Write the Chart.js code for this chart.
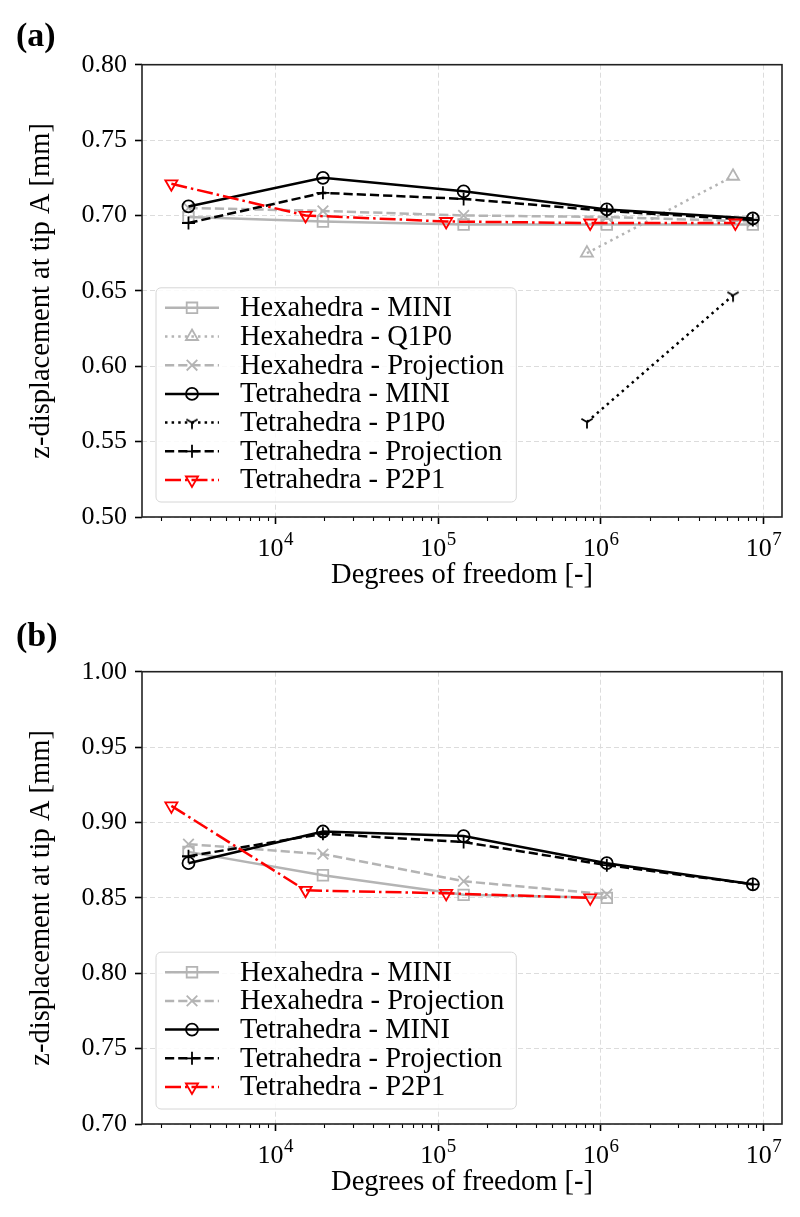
<!DOCTYPE html>
<html>
<head>
<meta charset="utf-8">
<script src="https://cdn.jsdelivr.net/npm/chart.js@4.4.0/dist/chart.umd.min.js"></script>
<style>
  html, body { margin: 0; padding: 0; background: #fff; }
  #wrap { position: relative; width: 800px; height: 1217px; }
  canvas { position: absolute; left: 0; }
</style>
</head>
<body>
<div id="wrap">
  <canvas id="chartA" width="800" height="607" style="top:0"></canvas>
  <canvas id="chartB" width="800" height="607" style="top:607px"></canvas>
</div>
<script>
// degrees of freedom of each mesh refinement
const dofHex = [2930, 19630, 143600, 1089000, 8590000];
const dofTet = [2930, 19630, 143600, 1089000, 8590000];
const dofP2P1 = [2300, 15350, 112200, 861000, 6710000];
const dofLowOrder = [822000, 6490000];

// (a) z-displacement at tip A [mm]
const hexMiniA = [0.699, 0.696, 0.694, 0.694, 0.694];
const hexQ1P0A = [0.675, 0.726];
const hexProjA = [0.705, 0.703, 0.700, 0.699, 0.696];
const tetMiniA = [0.706, 0.725, 0.716, 0.704, 0.698];
const tetP1P0A = [0.563, 0.647];
const tetProjA = [0.695, 0.715, 0.711, 0.703, 0.697];
const tetP2P1A = [0.721, 0.700, 0.696, 0.695, 0.695];

// (b) z-displacement at tip A [mm]
const hexMiniB = [0.8805, 0.865, 0.852, 0.850];
const hexProjB = [0.8856, 0.879, 0.861, 0.8524];
const tetMiniB = [0.873, 0.894, 0.891, 0.873, 0.859];
const tetProjB = [0.8776, 0.8925, 0.887, 0.8717, 0.859];
const tetP2P1B = [0.911, 0.855, 0.853, 0.850];

// axis ticks
const xTicks = [1e4, 1e5, 1e6, 1e7];
const yTicksA = [0.50, 0.55, 0.60, 0.65, 0.70, 0.75, 0.80];
const yTicksB = [0.70, 0.75, 0.80, 0.85, 0.90, 0.95, 1.00];

const GRAY = '#b4b4b4';
const RED = '#ff0000';
const FONT = "'Liberation Serif', 'DejaVu Serif', serif";
const TXT = 28.5;
Chart.defaults.font.family = FONT;
Chart.defaults.color = '#000';

// matplotlib '1' marker (tri_down)
function triDown(color) {
  const c = document.createElement('canvas');
  c.width = 18; c.height = 18;
  const g = c.getContext('2d');
  g.strokeStyle = color; g.lineWidth = 1.8;
  g.beginPath();
  g.moveTo(9, 9); g.lineTo(9, 15.5);
  g.moveTo(9, 9); g.lineTo(3.4, 5.8);
  g.moveTo(9, 9); g.lineTo(14.6, 5.8);
  g.stroke();
  return c;
}

const styles = {
  'Hexahedra - MINI':        { color: GRAY, dash: [], point: 'rect', r: 7.5 },
  'Hexahedra - Q1P0':        { color: GRAY, dash: [2.5, 4.1], point: 'triangle', r: 7 },
  'Hexahedra - Projection':  { color: GRAY, dash: [9.2, 4], point: 'crossRot', r: 7.5 },
  'Tetrahedra - MINI':       { color: '#000', dash: [], point: 'circle', r: 6 },
  'Tetrahedra - P1P0':       { color: '#000', dash: [2.5, 4.1], point: triDown('#000'), r: 6 },
  'Tetrahedra - Projection': { color: '#000', dash: [9.2, 4], point: 'cross', r: 6.5 },
  'Tetrahedra - P2P1':       { color: RED, dash: [16, 4, 2.5, 4], point: 'triangle', r: 7, rot: 180 }
};

function series(label, xs, ys, idx, n) {
  const s = styles[label];
  return {
    label,
    data: ys.map((y, i) => ({ x: xs[i], y })),
    borderColor: s.color,
    borderWidth: 2.5,
    borderDash: s.dash,
    pointStyle: s.point,
    pointRadius: s.r,
    pointRotation: s.rot || 0,
    pointBorderColor: s.color,
    pointBackgroundColor: 'rgba(0,0,0,0)',
    pointBorderWidth: 1.8,
    tension: 0,
    fill: false,
    order: n - idx
  };
}

// frame, log tick labels, minor ticks and the legend box
const decor = {
  id: 'decor',
  afterDraw(chart) {
    const ctx = chart.ctx;
    const a = chart.chartArea;
    const xs = chart.scales.x;
    ctx.save();
    // minor ticks
    ctx.strokeStyle = '#000';
    ctx.lineWidth = 1.1;
    for (let e = 3; e <= 7; e++) {
      for (let m = 2; m <= 9; m++) {
        const v = m * Math.pow(10, e);
        if (v < xs.min || v > xs.max) continue;
        const px = Math.round(xs.getPixelForValue(v)) + 0.5;
        ctx.beginPath();
        ctx.moveTo(px, a.bottom);
        ctx.lineTo(px, a.bottom + 4);
        ctx.stroke();
      }
    }
    // 10^n labels
    ctx.fillStyle = '#000';
    ctx.textBaseline = 'alphabetic';
    ctx.textAlign = 'left';
    xTicks.forEach(v => {
      const px = xs.getPixelForValue(v);
      const exp = String(Math.round(Math.log10(v)));
      ctx.font = '26px ' + FONT;
      const w1 = ctx.measureText('10').width;
      ctx.font = '19px ' + FONT;
      const w2 = ctx.measureText(exp).width;
      const x0 = px - (w1 + w2) / 2;
      ctx.font = '26px ' + FONT;
      ctx.fillText('10', x0, a.bottom + 39);
      ctx.font = '19px ' + FONT;
      ctx.fillText(exp, x0 + w1 + 0.5, a.bottom + 28);
    });
    // frame
    ctx.lineWidth = 1.6;
    ctx.strokeStyle = '#222';
    ctx.strokeRect(a.left, a.top, a.right - a.left, a.bottom - a.top);

    // legend
    const sets = chart.data.datasets;
    const rowH = 28.7;
    ctx.font = TXT + 'px ' + FONT;
    const tw = Math.max(...sets.map(d => ctx.measureText(d.label).width));
    const w = 84 + tw + 12;
    const h = 20 + rowH * (sets.length - 1) + 22;
    const lx = a.left + 14;
    const ly = a.bottom - 15 - h;
    ctx.beginPath();
    ctx.roundRect(lx, ly, w, h, 5);
    ctx.fillStyle = 'rgba(255,255,255,0.85)';
    ctx.fill();
    ctx.lineWidth = 1;
    ctx.strokeStyle = '#d6d6d6';
    ctx.stroke();
    sets.forEach((d, i) => {
      const cy = ly + 20 + i * rowH;
      ctx.save();
      ctx.strokeStyle = d.borderColor;
      ctx.lineWidth = d.borderWidth;
      ctx.setLineDash(d.borderDash);
      ctx.beginPath();
      ctx.moveTo(lx + 9, cy);
      ctx.lineTo(lx + 63, cy);
      ctx.stroke();
      ctx.setLineDash([]);
      ctx.lineWidth = d.pointBorderWidth;
      ctx.fillStyle = 'rgba(0,0,0,0)';
      Chart.helpers.drawPoint(ctx, {
        pointStyle: d.pointStyle, rotation: d.pointRotation,
        radius: d.pointRadius, borderWidth: d.pointBorderWidth
      }, lx + 36, cy);
      ctx.restore();
      ctx.fillStyle = '#000';
      ctx.textBaseline = 'middle';
      ctx.textAlign = 'left';
      ctx.font = TXT + 'px ' + FONT;
      ctx.fillText(d.label, lx + 84, cy + 1);
    });
    ctx.restore();
  }
};

function makeChart(id, panel, datasets, yTicks, titlePad) {
  return new Chart(document.getElementById(id), {
    type: 'line',
    data: { datasets },
    plugins: [decor],
    options: {
      responsive: false,
      animation: false,
      devicePixelRatio: 1,
      layout: { padding: { left: 16, right: 18, top: 0, bottom: 0 } },
      plugins: {
        legend: { display: false },
        tooltip: { enabled: false },
        title: {
          display: true, text: panel, align: 'start', color: '#000',
          font: { size: 34, weight: 'bold', family: FONT },
          padding: titlePad
        }
      },
      scales: {
        x: {
          type: 'logarithmic',
          min: 1518, max: 1.298e7,
          afterBuildTicks: s => { s.ticks = xTicks.map(v => ({ value: v, major: true })); },
          afterFit: s => { s.height = 90; },
          ticks: { display: false, autoSkip: false },
          grid: { color: '#dcdcdc', lineWidth: 1, tickLength: 7, tickColor: '#000', tickWidth: 1.6 },
          border: { display: false, dash: [5, 3] },
          title: {
            display: true, text: 'Degrees of freedom [-]', color: '#000',
            font: { size: TXT }, padding: { top: 0, bottom: 14 }
          }
        },
        y: {
          type: 'linear',
          min: yTicks[0], max: yTicks[yTicks.length - 1],
          afterBuildTicks: s => { s.ticks = yTicks.map(v => ({ value: v })); },
          afterFit: s => { s.width = 126; },
          ticks: {
            padding: 8, color: '#000', font: { size: 26 },
            callback: v => Number(v).toFixed(2)
          },
          grid: { color: '#dcdcdc', lineWidth: 1, tickLength: 7, tickColor: '#000', tickWidth: 1.6 },
          border: { display: false, dash: [5, 3] },
          title: {
            display: true, text: 'z-displacement at tip A [mm]', color: '#000',
            font: { size: TXT }, padding: { top: 8, bottom: 0 }
          }
        }
      }
    }
  });
}

const labelsA = ['Hexahedra - MINI', 'Hexahedra - Q1P0', 'Hexahedra - Projection',
  'Tetrahedra - MINI', 'Tetrahedra - P1P0', 'Tetrahedra - Projection', 'Tetrahedra - P2P1'];
const xsA = [dofHex, dofLowOrder, dofHex, dofTet, dofLowOrder, dofTet, dofP2P1];
const ysA = [hexMiniA, hexQ1P0A, hexProjA, tetMiniA, tetP1P0A, tetProjA, tetP2P1A];
makeChart('chartA', '(a)',
  labelsA.map((l, i) => series(l, xsA[i], ysA[i], i, labelsA.length)),
  yTicksA, { top: 16.6, bottom: 7.3 });

const labelsB = ['Hexahedra - MINI', 'Hexahedra - Projection',
  'Tetrahedra - MINI', 'Tetrahedra - Projection', 'Tetrahedra - P2P1'];
const xsB = [dofHex, dofHex, dofTet, dofTet, dofP2P1];
const ysB = [hexMiniB, hexProjB, tetMiniB, tetProjB, tetP2P1B];
makeChart('chartB', '(b)',
  labelsB.map((l, i) => series(l, xsB[i], ysB[i], i, labelsB.length)),
  yTicksB, { top: 9.6, bottom: 14.3 });
</script>
</body>
</html>
